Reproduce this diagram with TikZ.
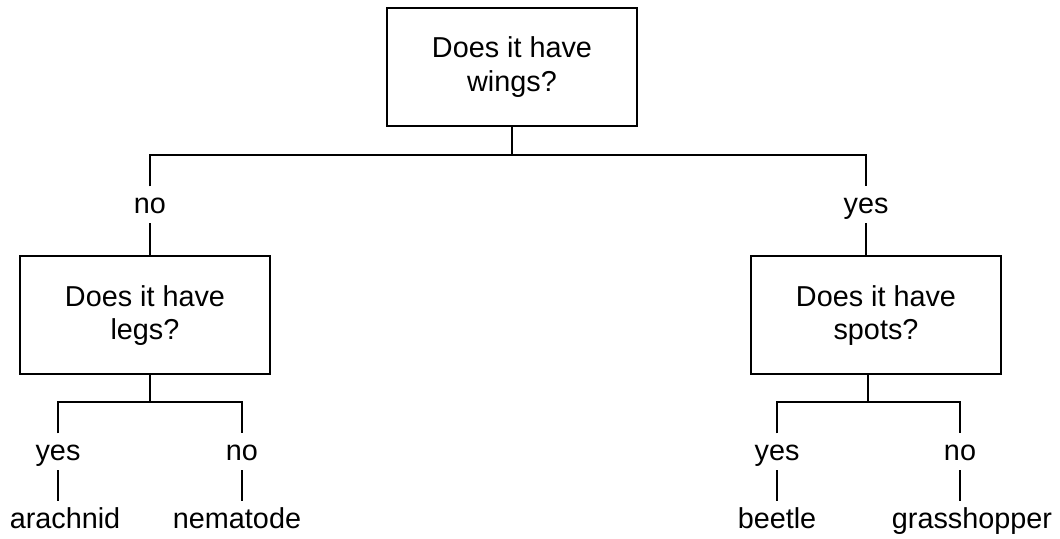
\documentclass[tikz,border=0pt]{standalone}
\usepackage{fontspec}
\setmainfont{Liberation Sans}
\usetikzlibrary{positioning}
\begin{document}
\begin{tikzpicture}[x=0.5pt,y=-0.5pt,line width=1pt,
 font=\fontsize{14.4}{16.7}\selectfont,
 qbox/.style={draw,line width=1pt,minimum width=125pt,minimum height=59pt,align=center,inner sep=2pt},
 lbl/.style={inner sep=0pt,minimum height=17.5pt,text height=10.4pt,text depth=2pt},
 leaf/.style={lbl}]
\useasboundingbox (0,0) rectangle (1060,539);
\node[qbox] (wings) at (512,67) {Does it have\\ wings?};
\coordinate (forkTop) at (512,155);
\node[lbl] (noA) at (150,205) {no};
\node[lbl] (yesA) at (866,205) {yes};
\node[qbox] (legs) at (145,315.5) {Does it have\\ legs?};
\node[qbox] (spots) at (876,315.5) {Does it have\\ spots?};
\coordinate (forkL) at (150,402);
\coordinate (forkR) at (868,402);
\node[lbl] (yesB) at (58,452) {yes};
\node[lbl] (noB) at (242,452) {no};
\node[lbl] (yesC) at (777,452) {yes};
\node[lbl] (noC) at (960,452) {no};
\node[leaf] (arachnid) at (65,519.6) {arachnid};
\node[leaf] (nematode) at (237,519.6) {nematode};
\node[leaf] (beetle) at (777,519.6) {beetle};
\node[leaf] (grass) at (972,519.6) {grasshopper};
\draw (wings.south) -- (forkTop);
\draw (noA.north) |- (forkTop) -| (yesA.north);
\draw (noA.south) -- (noA.south |- legs.north);
\draw (yesA.south) -- (yesA.south |- spots.north);
\draw (legs.south -| forkL) -- (forkL);
\draw (yesB.north) |- (forkL) -| (noB.north);
\draw (yesB.south) -- (yesB.south |- arachnid.north);
\draw (noB.south) -- (noB.south |- nematode.north);
\draw (spots.south -| forkR) -- (forkR);
\draw (yesC.north) |- (forkR) -| (noC.north);
\draw (yesC.south) -- (yesC.south |- beetle.north);
\draw (noC.south) -- (noC.south |- grass.north);
\end{tikzpicture}
\end{document}
